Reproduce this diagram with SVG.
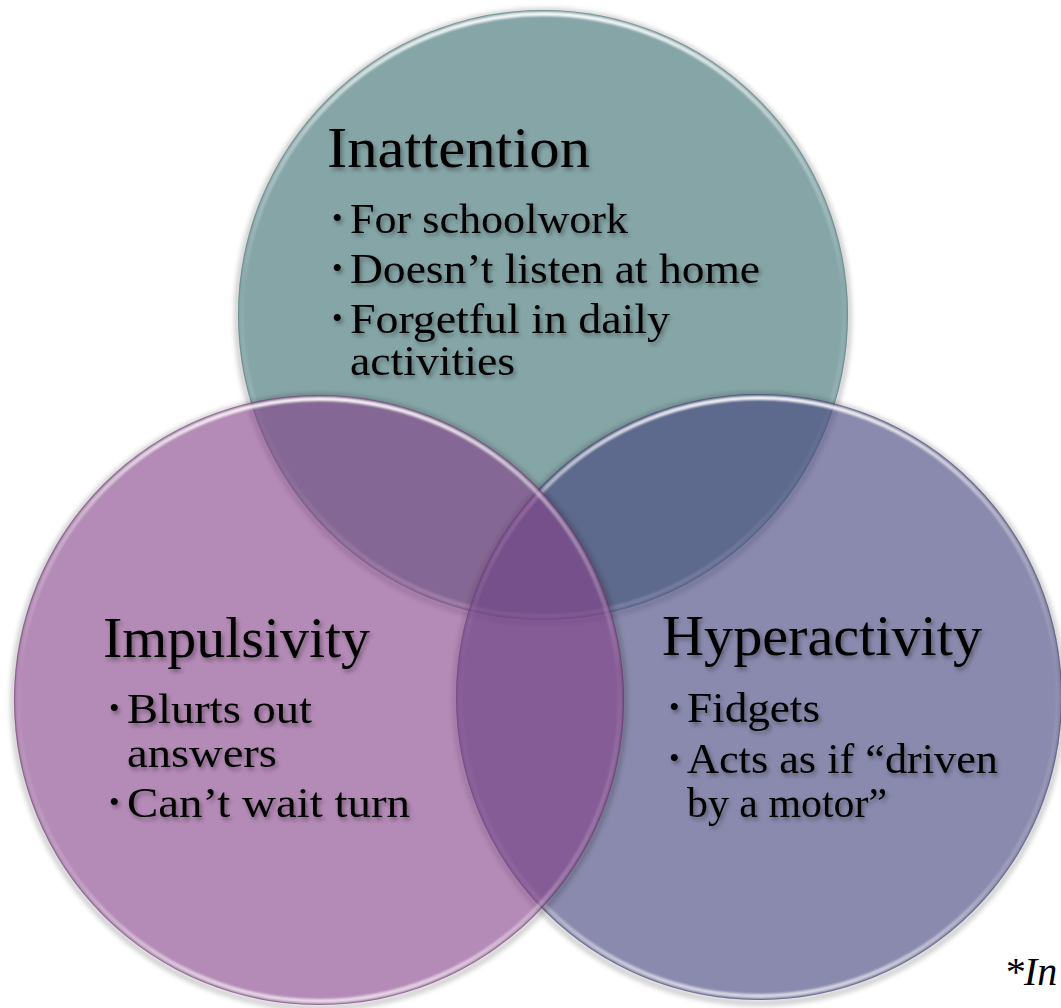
<svg xmlns="http://www.w3.org/2000/svg" width="1061" height="1008" viewBox="0 0 1061 1008">
  <style>
    .title { font-family: "Liberation Serif", "DejaVu Serif", serif; font-size: 56px; fill: #000; }
    .item  { font-family: "Liberation Serif", "DejaVu Serif", serif; font-size: 42px; fill: #000; }
    .dot   { font-family: "Liberation Serif", "DejaVu Serif", serif; font-size: 30px; fill: #000; }
    .note  { font-family: "Liberation Serif", "DejaVu Serif", serif; font-size: 40px; font-style: italic; fill: #000; }
    .halo  { fill: none; stroke: #000; stroke-opacity: 0.22; stroke-width: 5; filter: url(#haloBlur); }
    .rim   { fill: none; stroke-width: 4; filter: url(#rimBlur); }
    .edge  { fill: none; stroke-width: 1.2; stroke-opacity: 0.3; }
    .label { filter: url(#textShadow); }
  </style>
  <defs>
    <!-- soft grey ring just outside each disc -->
    <filter id="haloBlur" x="-10%" y="-10%" width="120%" height="120%">
      <feGaussianBlur stdDeviation="2.5"/>
    </filter>
    <!-- blurred drop shadow behind the lettering -->
    <filter id="textShadow" x="-5%" y="-20%" width="115%" height="150%">
      <feDropShadow dx="2" dy="3" stdDeviation="2" flood-color="#000" flood-opacity="0.35"/>
    </filter>
    <filter id="rimBlur" x="-5%" y="-5%" width="110%" height="110%">
      <feGaussianBlur stdDeviation="0.9"/>
    </filter>
    <!-- bevel highlight: bright on top, lighter again at the bottom -->
    <linearGradient id="rimGrad" x1="0" y1="0" x2="0" y2="1">
      <stop offset="0" stop-color="#fff" stop-opacity="0.95"/>
      <stop offset="0.2" stop-color="#fff" stop-opacity="0.4"/>
      <stop offset="0.45" stop-color="#fff" stop-opacity="0.05"/>
      <stop offset="0.8" stop-color="#fff" stop-opacity="0.2"/>
      <stop offset="1" stop-color="#fff" stop-opacity="0.7"/>
    </linearGradient>
  </defs>

  <!-- Inattention -->
  <g id="inattention">
    <circle class="halo" cx="543" cy="317" r="306"/>
    <circle cx="543" cy="315" r="305" fill="#85a5a7"/>
    <circle class="edge" cx="543" cy="315" r="304.5" stroke="#3d5c5e"/>
    <circle class="rim" cx="543" cy="315" r="301" stroke="url(#rimGrad)"/>
    <g class="label">
      <text class="title" x="327" y="167" textLength="263" lengthAdjust="spacingAndGlyphs">Inattention</text>
      <text class="dot" x="332" y="228">•</text>
      <text class="item" x="350" y="233" textLength="278" lengthAdjust="spacingAndGlyphs">For schoolwork</text>
      <text class="dot" x="332" y="278">•</text>
      <text class="item" x="350" y="283" textLength="410" lengthAdjust="spacingAndGlyphs">Doesn’t listen at home</text>
      <text class="dot" x="332" y="328">•</text>
      <text class="item" x="350" y="333" textLength="320" lengthAdjust="spacingAndGlyphs">Forgetful in daily</text>
      <text class="item" x="350" y="375" textLength="165" lengthAdjust="spacingAndGlyphs">activities</text>
    </g>
  </g>

  <!-- Hyperactivity -->
  <g id="hyperactivity">
    <circle class="halo" cx="759" cy="699" r="304"/>
    <circle cx="759" cy="697" r="303" fill="#45457e" fill-opacity="0.63"/>
    <circle class="edge" cx="759" cy="697" r="302.5" stroke="#2a2a55"/>
    <circle class="rim" cx="759" cy="697" r="299" stroke="url(#rimGrad)"/>
    <g class="label">
      <text class="title" x="662" y="655" textLength="320" lengthAdjust="spacingAndGlyphs">Hyperactivity</text>
      <text class="dot" x="669" y="717">•</text>
      <text class="item" x="687" y="722" textLength="133" lengthAdjust="spacingAndGlyphs">Fidgets</text>
      <text class="dot" x="669" y="768">•</text>
      <text class="item" x="687" y="773" textLength="311" lengthAdjust="spacingAndGlyphs">Acts as if “driven</text>
      <text class="item" x="687" y="817" textLength="200" lengthAdjust="spacingAndGlyphs">by a motor”</text>
    </g>
  </g>

  <!-- Impulsivity -->
  <g id="impulsivity">
    <circle class="halo" cx="319" cy="702" r="306"/>
    <circle cx="319" cy="700" r="305" fill="#843f87" fill-opacity="0.61"/>
    <circle class="edge" cx="319" cy="700" r="304.5" stroke="#4a1f4d"/>
    <circle class="rim" cx="319" cy="700" r="301" stroke="url(#rimGrad)"/>
    <g class="label">
      <text class="title" x="103" y="657" textLength="267" lengthAdjust="spacingAndGlyphs">Impulsivity</text>
      <text class="dot" x="109" y="718">•</text>
      <text class="item" x="127" y="723" textLength="185" lengthAdjust="spacingAndGlyphs">Blurts out</text>
      <text class="item" x="127" y="767" textLength="150" lengthAdjust="spacingAndGlyphs">answers</text>
      <text class="dot" x="109" y="812">•</text>
      <text class="item" x="127" y="817" textLength="283" lengthAdjust="spacingAndGlyphs">Can’t wait turn</text>
    </g>
  </g>

  <!-- footnote marker in the lower right corner -->
  <g id="footnote">
    <text class="note" x="1004" y="985">*In</text>
  </g>
</svg>
